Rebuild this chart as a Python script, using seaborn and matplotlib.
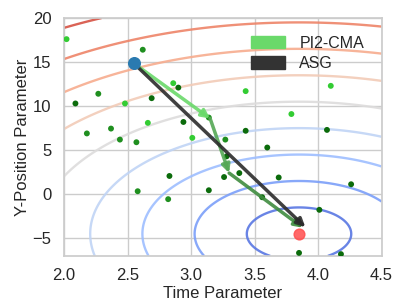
import numpy as np
import pandas as pd
import matplotlib
matplotlib.use("Agg")
import matplotlib.pyplot as plt
from matplotlib.patches import Patch
import seaborn as sns

# cost landscape (elliptic bowl around the goal)
goal = (3.85, -4.5)
x_scale = 7.3
levels = [0, 3, 6, 9, 12, 15, 18, 21, 24, 27, 30]

start = (2.55, 14.85)

# PI2-CMA mean updates
pi2_x = [2.55, 3.15, 3.30, 3.88]
pi2_y = [14.85, 8.6, 2.4, -3.8]
pi2_colors = ["#6ad96a", "#55a855", "#3f8c3f"]

# ASG single step
asg_x = [2.55, 3.90]
asg_y = [14.85, -3.75]

# rollout samples, grouped by shade
samp_x = [2.02, 2.86, 3.43, 4.10, 2.48, 2.66, 3.79, 3.01,
          2.62, 2.27, 2.18, 2.37, 2.44, 2.57, 2.58, 2.82, 3.27, 3.14,
          2.69, 2.90, 2.09, 2.83, 2.94, 3.43, 3.60, 3.28, 3.26, 3.38,
          4.07, 3.69, 3.14, 4.26, 3.56, 4.01, 3.85, 4.18]
samp_y = [17.6, 12.6, 11.7, 12.3, 10.3, 8.1, 9.1, 6.4,
          16.4, 11.4, 6.9, 7.45, 6.2, 5.9, 0.34, -0.56, 6.2, 8.7,
          10.9, 12.1, 10.3, 2.07, 8.2, 7.2, 5.3, 4.3, 1.95, 2.4,
          7.3, 1.9, 0.45, 1.13, -0.34, -1.77, -6.66, -6.8]
samp_gen = ["a"] * 8 + ["b"] * 10 + ["c"] * 18
gen_palette = {"a": "#33cc33", "b": "#1f8f1f", "c": "#0b6b0b"}

sns.set_theme(style="whitegrid")
plt.rcParams["font.family"] = ["Liberation Sans", "DejaVu Sans"]

fig = plt.figure(figsize=(4, 3), dpi=100)
ax = fig.add_axes([0.16, 0.147, 0.794, 0.793])

gx, gy = np.meshgrid(np.linspace(2.0, 4.5, 300), np.linspace(-7, 20, 300))
cost = np.sqrt((x_scale * (gx - goal[0])) ** 2 + (gy - goal[1]) ** 2)
ax.contour(gx, gy, cost, levels=levels, cmap="coolwarm", vmin=0, vmax=30,
           linewidths=1.7, alpha=0.9, zorder=1)

samples = pd.DataFrame({"x": samp_x, "y": samp_y, "gen": samp_gen})
sns.scatterplot(data=samples, x="x", y="y", hue="gen", palette=gen_palette,
                s=18, linewidth=0, legend=False, ax=ax, zorder=3)

for i in range(len(pi2_x) - 1):
    ax.annotate("", xy=(pi2_x[i + 1], pi2_y[i + 1]), xytext=(pi2_x[i], pi2_y[i]),
                arrowprops=dict(arrowstyle="-|>", color=pi2_colors[i], lw=2.5,
                                mutation_scale=12, shrinkA=0, shrinkB=0, alpha=0.9),
                zorder=4)

ax.annotate("", xy=(asg_x[1], asg_y[1]), xytext=(asg_x[0], asg_y[0]),
            arrowprops=dict(arrowstyle="-|>", color="#2b2b2b", lw=2.5,
                            mutation_scale=12, shrinkA=0, shrinkB=0, alpha=0.9),
            zorder=5)

ax.scatter([start[0]], [start[1]], s=70, color="#2a7ab0", zorder=6)
ax.scatter([goal[0]], [goal[1]], s=60, color="#ff4d4d", alpha=0.85, zorder=6)

ax.set_xlim(2.0, 4.5)
ax.set_ylim(-7, 20)
ax.set_xticks([2.0, 2.5, 3.0, 3.5, 4.0, 4.5])
ax.set_yticks([-5, 0, 5, 10, 15, 20])
ax.set_xlabel("Time Parameter", fontsize=12, labelpad=2)
ax.set_ylabel("Y-Position Parameter", fontsize=12, labelpad=2)
ax.tick_params(labelsize=12, pad=3)

handles = [Patch(color="#6ad96a", label="PI2-CMA"),
           Patch(color="#333333", label="ASG")]
ax.legend(handles=handles, loc="upper right", frameon=False, fontsize=11.5,
          handlelength=2.1, handleheight=0.8, handletextpad=0.9,
          labelspacing=0.35, borderaxespad=0.7)

fig.savefig("out.png", dpi=100)
